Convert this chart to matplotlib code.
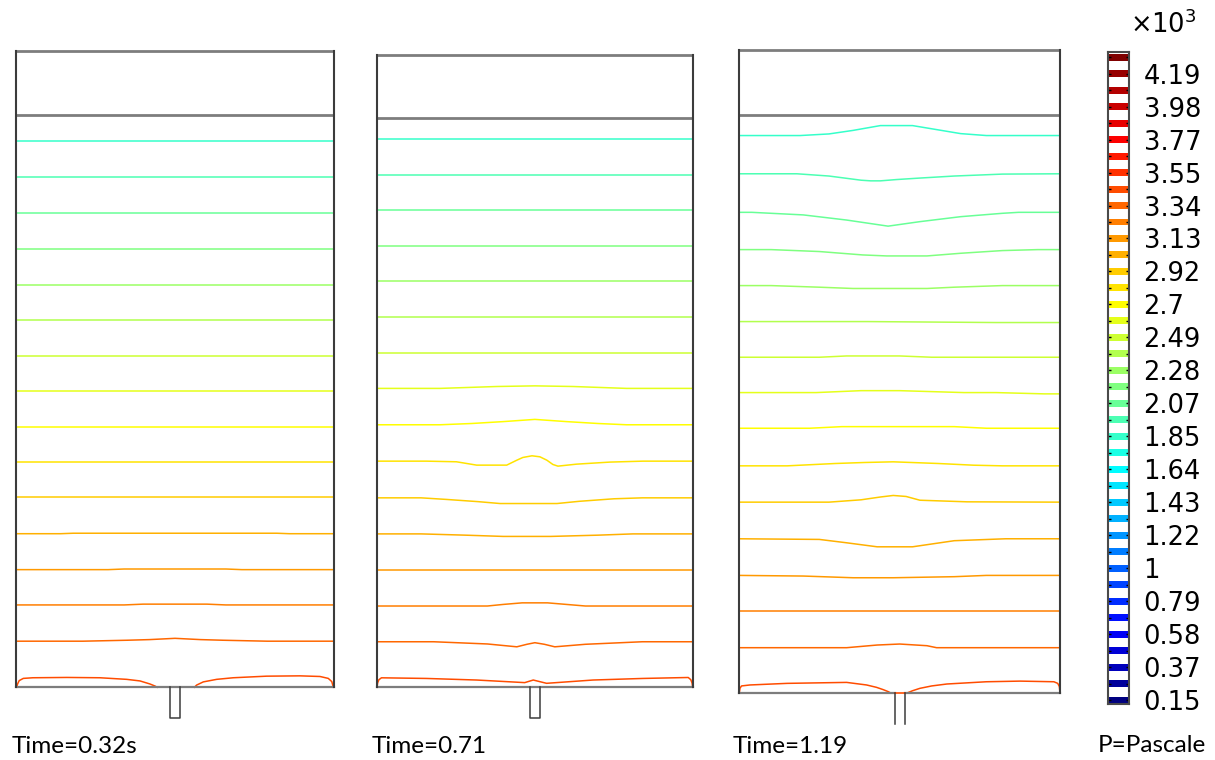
import numpy as np
import matplotlib
matplotlib.use("Agg")
import matplotlib.pyplot as plt
from matplotlib.colors import Normalize, LinearSegmentedColormap

# ---------------------------------------------------------------------------
# Pressure contour levels (x 10^3 Pa)
LEVEL_MIN = 0.1548
LEVEL_STEP = 0.1062
N_LEVELS = 40
levels = LEVEL_MIN + LEVEL_STEP * np.arange(N_LEVELS)
tick_labels = ["0.15", "0.37", "0.58", "0.79", "1", "1.22", "1.43", "1.64",
               "1.85", "2.07", "2.28", "2.49", "2.7", "2.92", "3.13", "3.34",
               "3.55", "3.77", "3.98", "4.19"]

# rainbow colour table: pressure value -> colour
cmap_values = [0.1548, 0.61, 1.64, 2.17, 2.70, 3.77, 4.2966]
cmap_colors = [(0.0, 0.0, 0.5), (0.0, 0.0, 1.0), (0.0, 1.0, 1.0),
               (0.5, 1.0, 0.5), (1.0, 1.0, 0.0), (1.0, 0.0, 0.0),
               (0.5, 0.0, 0.0)]

panel_times = ["Time=0.32s", "Time=0.71", "Time=1.19"]

# level index of each isobar, from the free surface down to the floor
isobar_levels = [16, 17, 18, 19, 20, 21, 22, 23, 24, 25, 26, 27, 28, 29, 30, 31]

# height of isobars 0..14 at the side walls (tank width = 1, height = 2)
wall_h_032 = [1.717, 1.605, 1.493, 1.378, 1.266, 1.154, 1.043, 0.931, 0.820,
              0.708, 0.597, 0.483, 0.370, 0.259, 0.145]
wall_h_071 = [1.734, 1.621, 1.508, 1.395, 1.283, 1.171, 1.058, 0.945, 0.830,
              0.715, 0.599, 0.485, 0.370, 0.257, 0.144]
wall_h_119 = [1.735, 1.616, 1.496, 1.380, 1.268, 1.156, 1.045, 0.935, 0.824,
              0.707, 0.594, 0.480, 0.366, 0.255, 0.141]

# local deformation of isobars: index -> (x, dh)
deform_032 = {
    11: ([-0.5, -0.36, -0.32, 0.32, 0.36, 0.5], [0, 0, 0.0015, 0.0015, 0, 0]),
    12: ([-0.5, -0.21, -0.16, 0.16, 0.21, 0.5], [0, 0, 0.002, 0.002, 0, 0]),
    13: ([-0.5, -0.16, -0.10, 0.10, 0.16, 0.5], [0, 0, 0.0025, 0.0025, 0, 0]),
    14: ([-0.5, -0.29, -0.15, -0.08, 0.0, 0.08, 0.15, 0.29, 0.5],
         [0, 0, 0.003, 0.005, 0.009, 0.005, 0.003, 0, 0]),
}
deform_071 = {
    7: ([-0.5, -0.30, -0.12, 0.0, 0.12, 0.29, 0.5],
        [0, 0, 0.006, 0.008, 0.006, 0, 0]),
    8: ([-0.5, -0.30, -0.2, -0.1, 0.0, 0.1, 0.2, 0.29, 0.5],
        [0, 0, 0.004, 0.010, 0.017, 0.010, 0.004, 0, 0]),
    9: ([-0.5, -0.343, -0.248, -0.184, -0.089, -0.057, -0.038, -0.009, 0.016,
         0.038, 0.057, 0.073, 0.132, 0.237, 0.342, 0.5],
        [0, 0, -0.002, -0.0126, -0.0126, 0.003, 0.0116, 0.0169, 0.0137,
         0.003, -0.0105, -0.0158, -0.0095, -0.003, 0, 0]),
    10: ([-0.5, -0.36, -0.28, -0.18, -0.11, -0.03, 0.07, 0.14, 0.25, 0.34, 0.5],
         [0, 0, -0.005, -0.012, -0.018, -0.018, -0.018, -0.011, -0.003, 0, 0]),
    11: ([-0.5, -0.36, -0.22, -0.1, 0.05, 0.2, 0.31, 0.5],
         [0, 0, -0.004, -0.008, -0.008, -0.004, 0, 0]),
    13: ([-0.5, -0.15, -0.1, -0.04, 0.04, 0.1, 0.16, 0.5],
         [0, 0, 0.005, 0.010, 0.010, 0.005, 0, 0]),
    14: ([-0.5, -0.32, -0.15, -0.057, -0.025, 0.0, 0.03, 0.063, 0.16, 0.34, 0.5],
         [0, 0, -0.007, -0.016, -0.008, -0.003, -0.008, -0.016, -0.008, 0, 0]),
}
deform_119 = {
    0: ([-0.5, -0.31, -0.22, -0.145, -0.06, 0.04, 0.10, 0.19, 0.27, 0.5],
        [0, 0, 0.005, 0.016, 0.031, 0.031, 0.021, 0.006, 0, 0]),
    1: ([-0.5, -0.32, -0.22, -0.12, -0.09, -0.06, -0.01, 0.06, 0.17, 0.32, 0.5],
        [0, 0, -0.007, -0.020, -0.022, -0.022, -0.018, -0.0135, -0.007, -0.001, 0]),
    2: ([-0.5, -0.46, -0.30, -0.165, -0.036, 0.063, 0.19, 0.32, 0.37, 0.5],
        [0, 0, -0.008, -0.024, -0.043, -0.029, -0.0135, -0.003, 0, 0]),
    3: ([-0.5, -0.40, -0.25, -0.115, -0.04, 0.085, 0.19, 0.32, 0.43, 0.5],
        [0, 0, -0.006, -0.0166, -0.0197, -0.0197, -0.0114, -0.003, 0, 0]),
    4: ([-0.5, -0.40, -0.25, -0.145, 0.085, 0.17, 0.32, 0.5],
        [0, 0, -0.005, -0.009, -0.009, -0.005, 0, 0]),
    5: ([-0.5, -0.10, 0.30, 0.5], [0, 0, -0.003, -0.003]),
    6: ([-0.5, -0.25, -0.165, 0.0, 0.1, 0.5], [0, 0, 0.004, 0.004, 0, 0]),
    7: ([-0.5, -0.26, -0.12, 0.0, 0.2, 0.30, 0.45, 0.5],
        [0, 0, 0.006, 0.006, 0, 0, -0.004, -0.004]),
    8: ([-0.5, -0.28, -0.18, 0.17, 0.27, 0.5], [0, 0, 0.005, 0.005, 0, 0]),
    9: ([-0.5, -0.35, -0.2, -0.11, -0.02, 0.12, 0.23, 0.32, 0.5],
        [0, 0, 0.0073, 0.0104, 0.0125, 0.0073, 0.002, 0, 0]),
    10: ([-0.5, -0.22, -0.12, -0.06, -0.02, 0.02, 0.063, 0.21, 0.5],
         [0, 0, 0.0073, 0.016, 0.0208, 0.0177, 0.006, 0.001, 0]),
    11: ([-0.5, -0.25, -0.165, -0.07, 0.04, 0.17, 0.33, 0.5],
         [0, -0.002, -0.0125, -0.025, -0.025, -0.006, 0, 0]),
    12: ([-0.5, -0.30, -0.145, -0.02, 0.17, 0.27, 0.5],
         [0, -0.002, -0.0073, -0.0073, -0.004, 0, 0]),
    14: ([-0.5, -0.165, -0.07, 0.0, 0.085, 0.115, 0.5],
         [0, 0, 0.0083, 0.0114, 0.0062, 0, 0]),
}

# lowest isobar (index 15), drawn as absolute heights (x, h)
floor_032 = [
    ([-0.498, -0.495, -0.49, -0.477, -0.447, -0.34, -0.236, -0.152, -0.11,
      -0.079, -0.063, -0.056],
     [0.0, 0.0105, 0.021, 0.028, 0.030, 0.031, 0.030, 0.025, 0.020, 0.0105,
      0.004, 0.0]),
    ([0.061, 0.068, 0.089, 0.131, 0.183, 0.288, 0.393, 0.456, 0.482, 0.493,
      0.498],
     [0.0, 0.007, 0.017, 0.025, 0.030, 0.035, 0.036, 0.034, 0.028, 0.018, 0.0]),
]
floor_071 = [
    ([-0.499, -0.497, -0.493, -0.485, -0.343, -0.184, -0.032, -0.005, 0.037,
      0.184, 0.342, 0.485, 0.493, 0.497, 0.499],
     [0.0, 0.014, 0.024, 0.030, 0.028, 0.023, 0.0148, 0.023, 0.0126, 0.023,
      0.028, 0.031, 0.024, 0.014, 0.0]),
]
floor_119 = [
    ([-0.499, -0.497, -0.492, -0.466, -0.35, -0.165, -0.103, -0.072, -0.051,
      -0.035, -0.028],
     [0.0, 0.015, 0.022, 0.025, 0.030, 0.033, 0.025, 0.0176, 0.0104, 0.004, 0.0]),
    ([0.023, 0.04, 0.063, 0.1, 0.147, 0.27, 0.375, 0.48, 0.492, 0.497, 0.499],
     [0.0, 0.007, 0.0145, 0.022, 0.028, 0.035, 0.037, 0.035, 0.03, 0.02, 0.0]),
]

wall_heights = [wall_h_032, wall_h_071, wall_h_119]
deforms = [deform_032, deform_071, deform_119]
floors = [floor_032, floor_071, floor_119]

# ---------------------------------------------------------------------------
# geometry of the tank sketches (tank units) and of the canvas (pixels)
TANK_H = 2.0
FILL_H = 1.8
PIPE_HALF_W = 0.016
PIPE_LEN = 0.097
open_outlet = [False, False, True]

FIG_W, FIG_H = 1215, 760
panel_px = [(16.0, 687.3, 318.0), (376.7, 687.3, 316.3), (739.0, 693.0, 321.3)]
label_x_px = [12, 372, 733]

plt.rcParams["font.family"] = ["DejaVu Sans"]
fig = plt.figure(figsize=(FIG_W / 100, FIG_H / 100), dpi=100)
fig.patch.set_facecolor("white")


def px_axes(left, top, width, height):
    return fig.add_axes([left / FIG_W, 1 - (top + height) / FIG_H,
                         width / FIG_W, height / FIG_H])


norm = Normalize(levels[0], levels[-1])
cmap = LinearSegmentedColormap.from_list(
    "rainbow_p", list(zip(norm(np.array(cmap_values)), cmap_colors)))

WALL_C = "#3c3c3c"
LID_C = "#7d7d7d"
LINE_W = 1.1

for i in range(3):
    x0, ybot, scale = panel_px[i]
    ax = px_axes(x0, ybot - TANK_H * scale, scale, TANK_H * scale)
    ax.set_xlim(-0.5, 0.5)
    ax.set_ylim(0, TANK_H)
    ax.axis("off")

    heights = wall_heights[i]
    for j, h in enumerate(heights):
        col = cmap(norm(levels[isobar_levels[j]]))
        if j in deforms[i]:
            xs, dh = deforms[i][j]
            ys = [h + d for d in dh]
        else:
            xs, ys = [-0.5, 0.5], [h, h]
        ax.plot(xs, ys, color=col, lw=LINE_W, clip_on=False, zorder=2,
                solid_capstyle="butt")
    col = cmap(norm(levels[isobar_levels[15]]))
    for xs, hs in floors[i]:
        ax.plot(xs, hs, color=col, lw=LINE_W, clip_on=False, zorder=2)

    # tank outline
    ax.plot([-0.5, -0.5], [0, TANK_H], color=WALL_C, lw=1.5, clip_on=False, zorder=4)
    ax.plot([0.5, 0.5], [0, TANK_H], color=WALL_C, lw=1.5, clip_on=False, zorder=4)
    ax.plot([-0.5, 0.5], [TANK_H, TANK_H], color=LID_C, lw=2.0, clip_on=False,
            zorder=3, solid_capstyle="butt")
    ax.plot([-0.5, 0.5], [FILL_H, FILL_H], color=LID_C, lw=2.0, clip_on=False,
            zorder=3, solid_capstyle="butt")
    if open_outlet[i]:
        ax.plot([-0.5, -PIPE_HALF_W], [0, 0], color=LID_C, lw=1.6, clip_on=False, zorder=3)
        ax.plot([PIPE_HALF_W, 0.5], [0, 0], color=LID_C, lw=1.6, clip_on=False, zorder=3)
        ax.plot([-PIPE_HALF_W, PIPE_HALF_W], [0, 0], color=col, lw=1.2, clip_on=False, zorder=3)
        for sx in (-PIPE_HALF_W, PIPE_HALF_W):
            ax.plot([sx, sx], [0, -PIPE_LEN], color=WALL_C, lw=1.1, clip_on=False, zorder=3)
    else:
        ax.plot([-0.5, 0.5], [0, 0], color=LID_C, lw=1.6, clip_on=False, zorder=3)
        ax.plot([-PIPE_HALF_W, -PIPE_HALF_W, PIPE_HALF_W, PIPE_HALF_W],
                [0, -PIPE_LEN, -PIPE_LEN, 0], color=WALL_C, lw=1.1,
                clip_on=False, zorder=3)

    fig.text(label_x_px[i] / FIG_W, 1 - 753 / FIG_H, panel_times[i],
             family=["Lato", "DejaVu Sans"], fontsize=17.5, va="baseline", ha="left")

# ---------------------------------------------------------------------------
# colour legend of the contour levels
cax = px_axes(1108, 52, 21, 652)
cax.set_xlim(0, 1)
cax.set_ylim(0.129, 4.330)
band = 0.045
cax.bar(np.full(N_LEVELS, 0.5), np.full(N_LEVELS, band), width=1.0,
        bottom=levels - band / 2, color=cmap(norm(levels)), linewidth=0)
for sp in cax.spines.values():
    sp.set_color("#4a4a4a")
    sp.set_linewidth(1.5)
cax.set_xticks([])
cax.set_yticks(levels[0::2])
cax.set_yticklabels(tick_labels)
cax.set_yticks(levels[1::2], minor=True)
cax.tick_params(axis="y", which="both", direction="in", left=True, right=True,
                labelleft=False, labelright=True, length=2.5, width=1.0,
                color="black", pad=10.5, labelsize=18.5)

fig.text(1130 / FIG_W, 1 - 33 / FIG_H, r"$\times10^{3}$", fontsize=18.5,
         va="baseline", ha="left")
fig.text(1098 / FIG_W, 1 - 752 / FIG_H, "P=Pascale",
         family=["Lato", "DejaVu Sans"], fontsize=17.5, va="baseline", ha="left")

fig.savefig("out.png", dpi=100, facecolor="white")
